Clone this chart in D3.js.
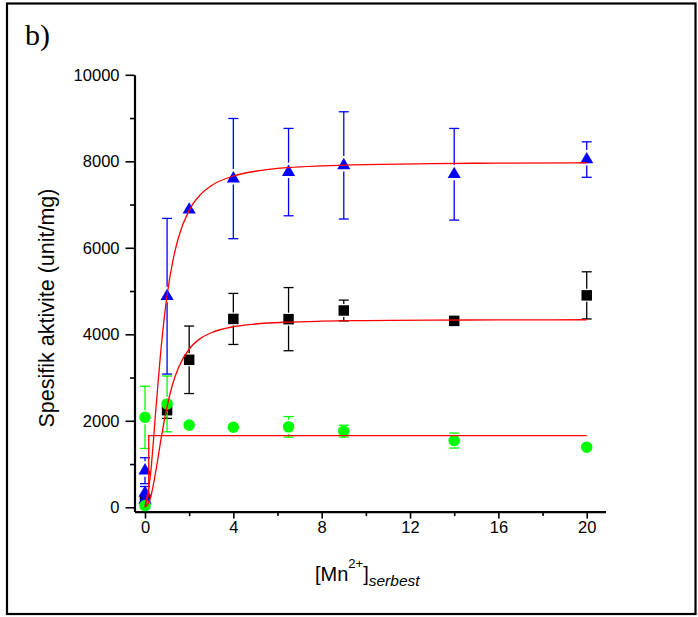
<!DOCTYPE html>
<html>
<head>
<meta charset="utf-8">
<script src="https://cdn.jsdelivr.net/npm/d3@7"></script>
<style>
  html, body { margin: 0; padding: 0; background: #fff; }
  svg { display: block; }
  text { font-family: "Liberation Sans", Arial, sans-serif; fill: #000; }
</style>
</head>
<body>
<svg id="chart" width="698" height="617"></svg>
<script>
// Free Mn2+ concentration vs. specific activity, three enzyme preparations
const blueX   = [0, 0, 0, 1, 2, 4, 6.5, 9, 14, 20];
const blueY   = [846, 330, 170, 4880, 6880, 7600, 7750, 7905, 7700, 8040];
const blueErr = [300, 150, 80, 1800, 60, 1390, 1010, 1240, 1060, 410];

const blackX   = [0, 1, 2, 4, 6.5, 9, 14, 20];
const blackY   = [180, 2245, 3410, 4355, 4350, 4550, 4310, 4900];
const blackErr = [60, 190, 780, 590, 730, 240, 40, 545];

const greenX   = [0, 0, 1, 2, 4, 6.5, 9, 14, 20];
const greenY   = [2080, 40, 2390, 1900, 1850, 1860, 1760, 1542, 1390];
const greenErr = [720, 20, 645, 50, 40, 237, 137, 173, 40];

// fitted saturation curves (red)
const fitX      = [0, 0.25, 0.5, 0.75, 1, 1.25, 1.5, 2, 2.5, 3, 4, 5, 6.5, 8, 10, 13, 16, 20];
const blueFit   = [0, 760, 2310, 3790, 4900, 5670, 6210, 6870, 7225, 7435, 7660, 7770, 7855, 7895, 7925, 7945, 7958, 7966];
const blackFit  = [0, 220, 865, 1650, 2330, 2845, 3210, 3660, 3900, 4035, 4175, 4238, 4282, 4303, 4318, 4327, 4332, 4336];
const greenFitX = [0, 0.17, 0.17, 20];
const greenFitY = [30, 300, 1655, 1655];

const xMajor = [0, 4, 8, 12, 16, 20];
const xMinor = [2, 6, 10, 14, 18];
const yMajor = [0, 2000, 4000, 6000, 8000, 10000];
const yMinor = [1000, 3000, 5000, 7000, 9000];

const svg = d3.select("#chart");

// outer frame
svg.append("rect")
  .attr("x", 7).attr("y", 3.5).attr("width", 688.5).attr("height", 610.5)
  .attr("fill", "none").attr("stroke", "#000").attr("stroke-width", 2.2);

// panel letter
svg.append("text")
  .attr("x", 25).attr("y", 45)
  .style("font-family", "'Liberation Serif', 'Times New Roman', serif")
  .style("font-size", "30px")
  .text("b)");

const x = d3.scaleLinear().domain([-0.475, 20.85]).range([134.5, 605.5]);
const y = d3.scaleLinear().domain([-100, 10000]).range([511.6, 74.8]);

// axes
function styleAxis(g) {
  g.select(".domain").attr("stroke", "#000").attr("stroke-width", 2.2);
  g.selectAll(".tick line").attr("stroke", "#000").attr("stroke-width", 1.6);
  g.selectAll(".tick text").style("font-size", "16.5px").attr("fill", "#000");
}

const gx = svg.append("g").attr("transform", `translate(0,${y.range()[0]})`);
gx.call(d3.axisBottom(x).tickValues(xMajor).tickFormat(d3.format("d"))
  .tickSize(7).tickSizeOuter(0).tickPadding(3));
styleAxis(gx);
const gxm = svg.append("g").attr("transform", `translate(0,${y.range()[0]})`);
gxm.call(d3.axisBottom(x).tickValues(xMinor).tickFormat("").tickSize(4.5).tickSizeOuter(0));
gxm.select(".domain").remove();
styleAxis(gxm);

const gy = svg.append("g").attr("transform", `translate(${x.range()[0]},0)`);
gy.call(d3.axisLeft(y).tickValues(yMajor).tickFormat(d3.format("d"))
  .tickSize(9).tickSizeOuter(0).tickPadding(6));
styleAxis(gy);
const gym = svg.append("g").attr("transform", `translate(${x.range()[0]},0)`);
gym.call(d3.axisLeft(y).tickValues(yMinor).tickFormat("").tickSize(4.5).tickSizeOuter(0));
gym.select(".domain").remove();
styleAxis(gym);

// axis titles
svg.append("text")
  .attr("transform", `translate(54,308) rotate(-90)`)
  .attr("text-anchor", "middle")
  .style("font-size", "21.5px")
  .text("Spesifik aktivite (unit/mg)");

const xt = svg.append("text").attr("x", 315).attr("y", 581).style("font-size", "20px");
xt.append("tspan").text("[Mn");
xt.append("tspan").attr("dy", -13).style("font-size", "13px").text("2+");
xt.append("tspan").attr("dy", 13).text("]");
xt.append("tspan").attr("dy", 5).style("font-size", "15.5px").style("font-style", "italic").text("serbest");

// series drawing: error bars are broken around the symbol, caps drawn whenever the bar is visible
const capW = 5;
function drawSeries(xs, ys, es, color, shape, gap) {
  const g = svg.append("g");
  xs.forEach((xv, i) => {
    const cx = x(xv), cy = y(ys[i]);
    const top = y(ys[i] + es[i]), bot = y(ys[i] - es[i]);
    const eb = g.append("g").attr("stroke", color).attr("stroke-width", 1.3).attr("fill", "none");
    if (cy - top > 4.5) {
      if (cy - gap[0] > top) eb.append("line").attr("x1", cx).attr("x2", cx).attr("y1", top).attr("y2", cy - gap[0]);
      eb.append("line").attr("x1", cx - capW).attr("x2", cx + capW).attr("y1", top).attr("y2", top);
    }
    if (bot - cy > 4.5) {
      if (cy + gap[1] < bot) eb.append("line").attr("x1", cx).attr("x2", cx).attr("y1", cy + gap[1]).attr("y2", bot);
      eb.append("line").attr("x1", cx - capW).attr("x2", cx + capW).attr("y1", bot).attr("y2", bot);
    }
  });
  g.selectAll("path.mk").data(xs).join("path")
    .attr("class", "mk")
    .attr("transform", (d, i) => `translate(${x(d)},${y(ys[i])})`)
    .attr("d", d3.symbol().type(shape.type).size(shape.size))
    .attr("fill", color);
}

drawSeries(blackX, blackY, blackErr, "#000000", {type: d3.symbolSquare, size: 110}, [6.5, 6.5]);
drawSeries(blueX, blueY, blueErr, "#0000ff", {type: d3.symbolTriangle, size: 75}, [9.5, 6]);
drawSeries(greenX, greenY, greenErr, "#00ff00", {type: d3.symbolCircle, size: 105}, [7, 7]);

// fitted curves
const smooth = d3.line().x(d => x(d[0])).y(d => y(d[1])).curve(d3.curveMonotoneX);
const straight = d3.line().x(d => x(d[0])).y(d => y(d[1]));
const fits = svg.append("g").attr("fill", "none").attr("stroke", "#ff0000").attr("stroke-width", 1.3);
fits.append("path").attr("d", smooth(fitX.map((v, i) => [v, blueFit[i]])));
fits.append("path").attr("d", smooth(fitX.map((v, i) => [v, blackFit[i]])));
fits.append("path").attr("d", straight(greenFitX.map((v, i) => [v, greenFitY[i]])));
</script>
</body>
</html>
